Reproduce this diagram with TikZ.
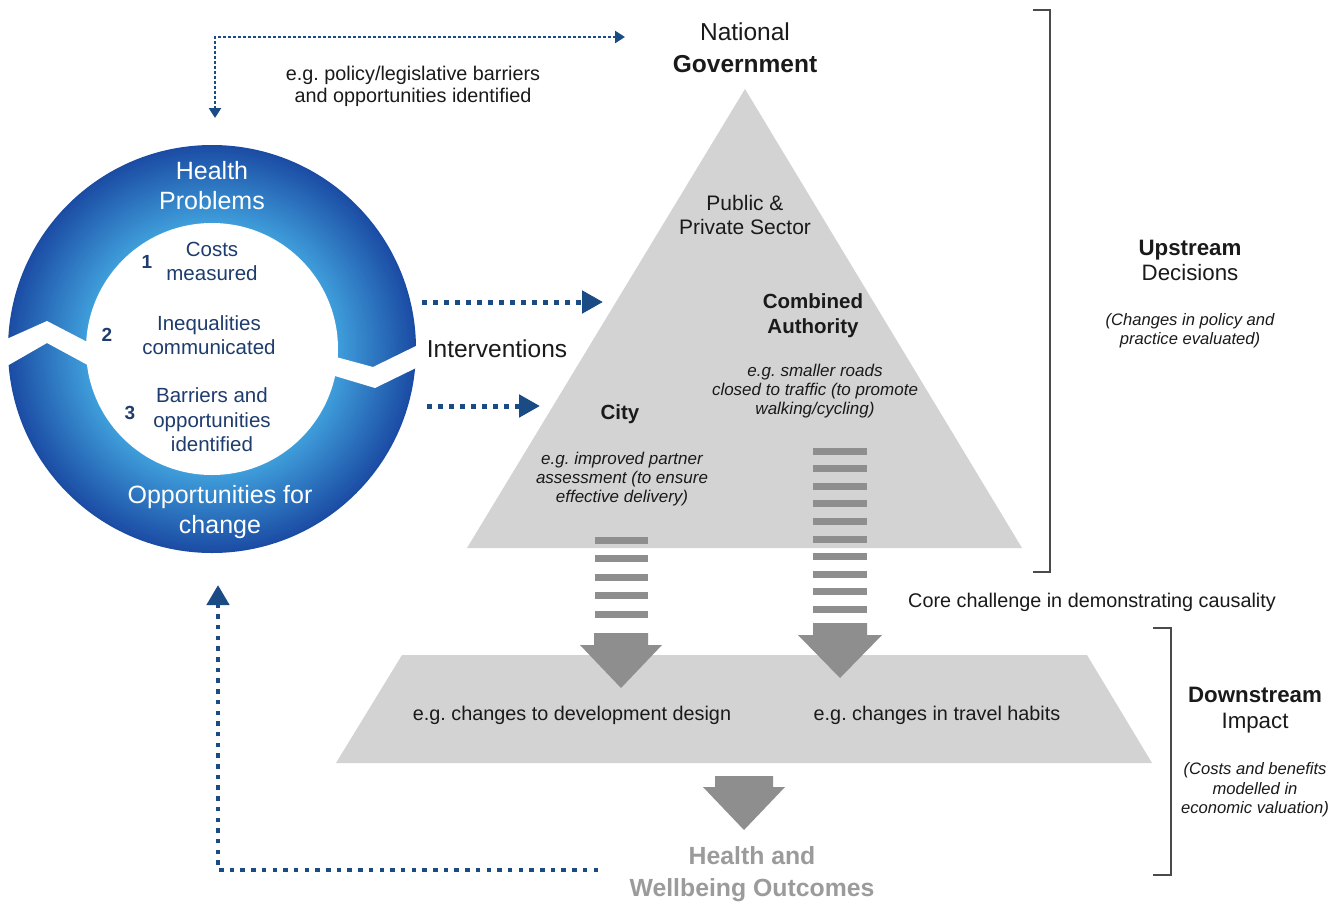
\documentclass[tikz,border=0pt]{standalone}
\usepackage{fontspec}
\setmainfont{Liberation Sans}
\usetikzlibrary{arrows.meta}
\definecolor{ringin}{HTML}{3F9DDA}
\definecolor{ringout}{HTML}{1B4CA4}
\definecolor{navy}{HTML}{1E3C6E}
\definecolor{arrowblue}{HTML}{1A4B85}
\definecolor{shapegray}{HTML}{D3D3D3}
\definecolor{arrowgray}{HTML}{8E8E8E}
\definecolor{outgray}{HTML}{9B9B9B}
\definecolor{ink}{HTML}{1A1A1A}
\definecolor{brk}{HTML}{4A4A4A}
\frenchspacing
\begin{document}
\begin{tikzpicture}[x=1pt,y=-1pt,
  lbl/.style={inner sep=0pt, align=center, text=ink},
  ringtxt/.style={lbl, text=white, font=\fontsize{25pt}{30pt}\selectfont},
  steptxt/.style={lbl, text=navy, font=\fontsize{20.5pt}{24.5pt}\selectfont},
  numlbl/.style={lbl, text=navy, font=\fontsize{19pt}{22pt}\selectfont\bfseries},
  regtxt/.style={lbl, font=\fontsize{19.8pt}{22pt}\selectfont},
  bigtxt/.style={lbl, font=\fontsize{24.5pt}{32pt}\selectfont},
  midtxt/.style={lbl, font=\fontsize{21pt}{24.5pt}\selectfont},
  midbold/.style={lbl, font=\fontsize{20.5pt}{25pt}\selectfont\bfseries},
  egtxt/.style={lbl, font=\fontsize{17pt}{19.2pt}\selectfont\itshape},
  sidetxt/.style={lbl, font=\fontsize{22.3pt}{25.5pt}\selectfont},
  sideit/.style={lbl, font=\fontsize{16.6pt}{19.5pt}\selectfont\itshape},
  outtxt/.style={lbl, text=outgray, font=\fontsize{24.8pt}{32pt}\selectfont\bfseries},
  thindot/.style={arrowblue, line width=2.5pt, dash pattern=on 2.4pt off 2.6pt,
     arrows={Triangle[length=10pt,width=12pt]-Triangle[length=10pt,width=12pt]}},
  thickdot/.style={arrowblue, line width=5pt, dash pattern=on 5pt off 6pt,
     arrows={-Triangle[length=21pt,width=22pt]}},
  fbdot/.style={arrowblue, line width=4.5pt, dash pattern=on 4.5pt off 6.2pt,
     arrows={-Triangle[length=20pt,width=22pt]}},
  bracket/.style={brk, line width=2pt},
  blockarrow/.style={fill=arrowgray},
]
\useasboundingbox (0,0) rectangle (1340,905);
\fill[white] (0,0) rectangle (1340,905);

% ---- cycle ring (stepped radial gradient) ----
\foreach \i in {0,...,47} {
  \pgfmathsetmacro\rr{204-\i*78/48}
  \pgfmathsetmacro\cc{100*\i/47}
  \fill[ringin!\cc!ringout] (212,349) circle[radius=\rr pt];
}
\fill[white] (212,349) circle[radius=126pt];
\fill[white] (0,342) -- (47,321) -- (95,346) -- (95,369) -- (47,343) -- (0,370) -- cycle;
\fill[white] (325,354) -- (373,367) -- (420,344) -- (420,366) -- (375,388) -- (325,373) -- cycle;

\node[ringtxt] (hp) at (212,186) {Health\\Problems};
\node[ringtxt] (opp) at (220,512) {Opportunities for\\change};
\node[steptxt] (s1) at (212,261.5) {Costs\\measured};
\node[numlbl] (n1) at (147,262) {1};
\node[steptxt] (s2) at (209,335) {Inequalities\\communicated};
\node[numlbl] (n2) at (107,335) {2};
\node[steptxt] (s3) at (212,420) {Barriers and\\opportunities\\identified};
\node[numlbl] (n3) at (130,413) {3};

% ---- pyramid ----
\fill[shapegray] (745,89) -- (1022,548) -- (467,548) -- cycle;
\fill[shapegray] (402,655) -- (1087,655) -- (1152,763) -- (336,763) -- cycle;

\node[bigtxt] (gov) at (745,48) {National\\\textbf{Government}};
\node[midtxt] (pps) at (745,215) {Public \&\\Private Sector};
\node[midbold] (ca) at (813,315.5) {Combined\\Authority};
\node[egtxt] (caeg) at (815,391) {e.g. smaller roads\\closed to traffic (to promote\\walking/cycling)};
\node[midbold] (city) at (620,414) {City};
\node[egtxt] (cityeg) at (622,479) {e.g. improved partner\\assessment (to ensure\\effective delivery)};

% striped block arrows
\foreach \y in {540,558.5,577,595.5,614}
  \fill[arrowgray] (595,\y-3.5) rectangle (648,\y+3.5);
\fill[blockarrow] (594,633) -- (648,633) -- (648,645) -- (662,645) -- (621,688) -- (580,645) -- (594,645) -- cycle;
\foreach \k in {0,...,9}
  \fill[arrowgray] (813,451+17.6*\k-3.5) rectangle (867,451+17.6*\k+3.5);
\fill[blockarrow] (813,623) -- (867,623) -- (867,635) -- (882,635) -- (840,678) -- (798,635) -- (813,635) -- cycle;

\node[regtxt] (dd) at (572,715) {e.g. changes to development design};
\node[regtxt] (th) at (937,715) {e.g. changes in travel habits};

\fill[blockarrow] (715,776) -- (773,776) -- (773,787) -- (785,787) -- (744,830) -- (703,787) -- (715,787) -- cycle;
\node[outtxt] (hw) at (752,874) {Health and\\Wellbeing Outcomes};

\node[regtxt] (core) at (1092,602) {Core challenge in demonstrating causality};

% ---- brackets and side labels ----
\draw[bracket] (1033,10) -- (1050,10) -- (1050,572) -- (1033,572);
\draw[bracket] (1153,628) -- (1171,628) -- (1171,875) -- (1153,875);
\node[sidetxt] (up) at (1190,260.5) {\textbf{Upstream}\\Decisions};
\node[sideit] (upn) at (1190,330.5) {(Changes in policy and\\practice evaluated)};
\node[sidetxt] (down) at (1255,710) {\textbf{Downstream}\\Impact};
\node[sideit] (downn) at (1255,790) {(Costs and benefits\\modelled in\\economic valuation)};

% ---- connectors ----
\node[regtxt] (pol) at (413,86) {e.g. policy/legislative barriers\\and opportunities identified};
\coordinate (ringtop) at (215,118);
\coordinate (corner1) at (215,37);
\coordinate (govleft) at (625,37);
\draw[thindot] (ringtop) -- (corner1) -- (govleft);

\node[lbl, font=\fontsize{24.5pt}{28pt}\selectfont] (int) at (497,349) {Interventions};
\coordinate (i1s) at (422,302);
\coordinate (i1e) at (603,302);
\coordinate (i2s) at (427,406);
\coordinate (i2e) at (540,406);
\draw[thickdot] (i1s) -- (i1e);
\draw[thickdot] (i2s) -- (i2e);

\coordinate (fbs) at (598,870);
\coordinate (fbc) at (218,870);
\coordinate (fbe) at (218,585);
\draw[fbdot] (fbs) -- (fbc) -- (fbe);
\end{tikzpicture}
\end{document}
